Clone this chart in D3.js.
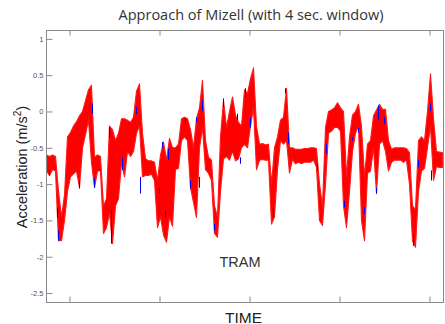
<!DOCTYPE html>
<meta charset="utf-8">
<style>
body { margin: 0; background: #fff; }
.frame { fill: none; stroke: #8a8a8a; stroke-width: 1px; }
.axis line { stroke: #8a8a8a; }
.axis text { fill: #555; font-family: "Liberation Sans", Arial, sans-serif; font-size: 7.5px; }
.band { fill: #ff0000; stroke: #ff1a1a; stroke-width: 1.1px; stroke-linejoin: round; }
.speck { stroke: #0000ff; stroke-width: 1px; }
</style>
<body>
<script src="https://d3js.org/d3.v7.min.js"></script>
<script>

// sample times (one every 3 units)
var time = [-23,-20,-17,-14,-11,-8,-5,-2,1,4,7,10,13,16,19,22,25,28,31,34,37,40,43,46,49,52,55,58,61,64,67,70,73,76,
  79,82,85,88,91,94,97,100,103,106,109,112,115,118,121,124,127,130,133,136,139,142,145,148,151,154,157,160,163,166,169,172,175,
  178,181,184,187,190,193,196,199,202,205,208,211,214,217,220,223,226,229,232,235,238,241,244,247,250,253,256,259,262,265,268,271,274,
  277,280,283,286,289,292,295,298,301,304,307,310,313,316,319,322,325,328,331,334,337,340,343,346,349,352,355,358,361,364,367,370,373];

// upper and lower edge of the noisy signal (m/s^2)
var upper = [-0.60,-0.62,-0.60,-0.62,-1.10,-1.45,-1.15,-0.35,-0.29,-0.20,-0.14,-0.06,0.00,0.15,0.30,0.36,-0.63,-0.60,-0.62,-1.30,-1.20,-0.20,-0.25,-0.40,-0.30,-0.10,-0.10,-0.12,-0.15,-0.08,0.28,0.38,-0.30,-0.65,
  -0.68,-0.68,-0.70,-0.95,-0.60,-0.42,-0.67,-0.37,-0.50,-0.50,-0.45,-0.10,-0.08,-0.10,-0.25,-0.50,-0.10,0.05,0.43,-0.40,-0.63,-0.67,-1.30,-1.45,-0.35,0.15,-0.22,0.00,0.20,-0.05,-0.15,-0.20,0.30,
  0.25,0.45,0.60,-0.20,-0.45,-0.44,-0.46,-0.45,-1.00,-0.50,-0.35,-0.12,-0.08,0.32,-0.50,-0.50,-0.52,-0.52,-0.52,-0.51,-0.51,-0.50,-0.50,-0.51,-1.00,-1.30,-0.22,0.00,0.02,0.05,0.12,0.05,0.00,
  -0.90,-0.35,-0.05,0.00,0.10,-0.20,-0.90,-0.45,-0.40,-0.06,0.02,0.10,0.03,0.03,-0.40,-0.52,-0.50,-0.50,-0.50,-0.50,-0.51,-0.57,-1.30,-1.35,-0.40,-0.35,-0.40,0.00,0.52,-0.10,-0.55,-0.56,-0.57];

var lower = [-0.82,-0.88,-0.80,-0.82,-1.78,-1.78,-1.50,-1.10,-0.90,-0.86,-0.82,-1.05,-0.50,-0.32,-0.12,-0.70,-1.05,-0.82,-0.82,-1.68,-1.60,-1.40,-1.82,-1.30,-1.20,-0.70,-0.90,-0.55,-0.62,-0.55,-0.30,-0.20,-0.90,-0.88,
  -0.88,-0.86,-0.95,-1.60,-1.45,-1.70,-1.80,-1.45,-1.58,-0.80,-0.78,-0.40,-0.35,-0.40,-1.05,-1.25,-1.46,-0.50,-0.22,-0.80,-0.85,-0.95,-1.68,-1.73,-1.10,-0.65,-0.62,-0.67,-0.55,-0.68,-0.65,-0.50,-0.45,
  -0.50,-0.20,0.05,-0.80,-0.67,-0.66,-0.67,-0.67,-1.55,-1.45,-0.80,-0.40,-0.45,-0.40,-0.85,-0.66,-0.72,-0.70,-0.72,-0.70,-0.70,-0.70,-0.67,-0.77,-1.50,-1.57,-1.00,-0.30,-0.27,-0.22,-0.22,-0.27,-1.30,
  -1.60,-1.10,-0.55,-0.30,-0.20,-1.50,-1.78,-0.85,-0.82,-0.50,-1.13,-0.45,-0.40,-0.55,-0.82,-0.70,-0.67,-0.67,-0.67,-0.70,-0.67,-1.00,-1.78,-1.87,-1.10,-0.82,-0.78,-0.50,-0.20,-0.95,-0.76,-0.77,-0.77];

// blue specks of the second trace that show through
var blueTime = [-20,-12,-11,10,23,25,40,42,53,67,71,90,93,96,99,116,121,127,130,133,145,154,168,171,176,181,204,206,216,219,248,257,275,283,289,295,307,309,315,344,349,361,362];
var blueTop = [-0.81,-1.32,-1.64,-0.95,0.11,-0.92,-0.22,-1.36,-0.63,0.06,-0.90,-1.05,-0.42,-1.36,-0.51,-0.10,-0.95,-0.08,-0.90,0.15,-1.55,0.18,-0.03,-0.63,0.32,-0.08,-1.32,-0.67,0.32,-0.29,-0.72,-0.44,-1.23,-0.36,-0.22,-1.32,-1.05,0.08,-0.08,-1.68,-0.67,0.11,-0.81];
var blueBot = [-0.88,-1.46,-1.78,-1.06,-0.03,-1.05,-0.36,-1.82,-0.81,-0.03,-1.13,-1.13,-0.50,-1.46,-0.67,-0.17,-1.06,-0.15,-1.05,0.01,-1.64,0.06,-0.12,-0.72,0.19,-0.22,-1.45,-0.81,0.25,-0.44,-0.81,-0.58,-1.32,-0.40,-0.29,-1.41,-1.13,-0.12,-0.17,-1.85,-0.77,0.01,-0.95];

var xTicks = [0, 90, 180, 270, 360];
var yTicks = [1, 0.5, 0, -0.5, -1, -1.5, -2, -2.5];

var margin = {top: 30, right: 2, bottom: 22, left: 46},
    width = 445 - margin.left - margin.right,
    height = 324 - margin.top - margin.bottom;

var x = d3.scaleLinear().domain([-23, 374]).range([0, width]);
var y = d3.scaleLinear().domain([-2.63, 1.115]).range([height, 0]);

var svg = d3.select("body").append("svg")
    .attr("width", 445)
    .attr("height", 324);

var g = svg.append("g")
    .attr("transform", "translate(" + (margin.left + 0.5) + "," + (margin.top + 0.5) + ")");

// red trace
var area = d3.area()
    .x(function(d, i) { return x(time[i]); })
    .y0(function(d, i) { return y(lower[i]); })
    .y1(function(d, i) { return y(upper[i]); });

g.append("path")
    .datum(time)
    .attr("class", "band")
    .attr("d", area);

// blue specks
g.selectAll(".speck")
    .data(blueTime)
  .enter().append("line")
    .attr("class", "speck")
    .attr("x1", function(d) { return x(d); })
    .attr("x2", function(d) { return x(d); })
    .attr("y1", function(d, i) { return y(blueTop[i]); })
    .attr("y2", function(d, i) { return y(blueBot[i]); });

// frame
g.append("rect")
    .attr("class", "frame")
    .attr("width", width)
    .attr("height", height);

// ticks
g.append("g")
    .attr("class", "axis")
    .call(d3.axisLeft(y).tickValues(yTicks).tickSize(-6).tickPadding(3)
      .tickFormat(function(d) { return String(d); }))
    .call(function(s) { s.select(".domain").remove(); });

g.append("g")
    .attr("class", "axis")
    .call(d3.axisBottom(x).tickValues(xTicks).tickSize(5).tickFormat(""))
    .call(function(s) { s.select(".domain").remove(); });

g.append("g")
    .attr("class", "axis")
    .attr("transform", "translate(0," + height + ")")
    .call(d3.axisTop(x).tickValues(xTicks).tickSize(6).tickFormat(""))
    .call(function(s) { s.select(".domain").remove(); });

// texts
svg.append("text")
    .attr("x", 251)
    .attr("y", 20)
    .attr("text-anchor", "middle")
    .style("font-family", "'Open Sans', sans-serif")
    .style("font-size", "14.5px")
    .style("fill", "#333")
    .text("Approach of Mizell (with 4 sec. window)");

var yl = svg.append("text")
    .attr("transform", "translate(26.5,167) rotate(-90)")
    .attr("text-anchor", "middle")
    .style("font-family", "'Liberation Sans', Arial, sans-serif")
    .style("font-size", "14.5px")
    .style("fill", "#222");
yl.append("tspan").text("Acceleration (m/s");
yl.append("tspan").attr("dy", -6).style("font-size", "10px").text("2");
yl.append("tspan").attr("dy", 6).text(")");

svg.append("text")
    .attr("x", 240)
    .attr("y", 267)
    .attr("text-anchor", "middle")
    .style("font-family", "'Liberation Sans', Arial, sans-serif")
    .style("font-size", "14.5px")
    .style("fill", "#333")
    .text("TRAM");

svg.append("text")
    .attr("x", 243.5)
    .attr("y", 322.5)
    .attr("text-anchor", "middle")
    .style("font-family", "'Liberation Sans', Arial, sans-serif")
    .style("font-size", "15.5px")
    .style("fill", "#222")
    .text("TIME");

</script>
</body>
